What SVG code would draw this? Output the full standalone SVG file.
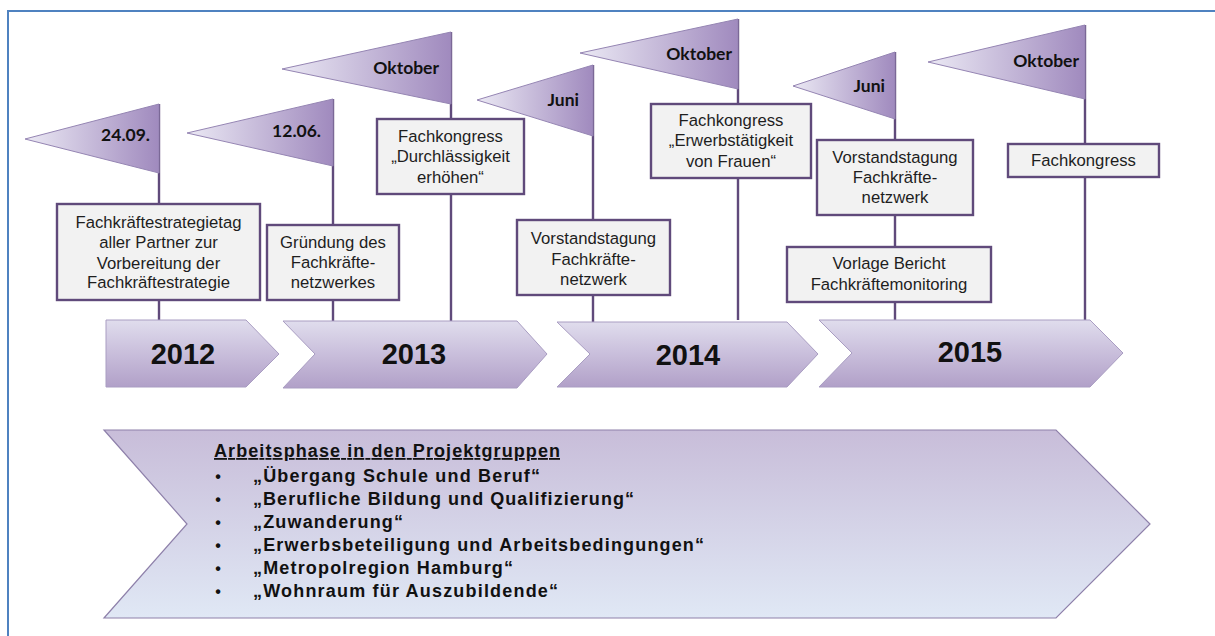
<svg xmlns="http://www.w3.org/2000/svg" width="1215" height="636" viewBox="0 0 1215 636">
  <defs>
    <linearGradient id="flagFill" x1="0" y1="0" x2="1" y2="0">
      <stop offset="0" stop-color="#ebe9f4"/>
      <stop offset="1" stop-color="#a08abe"/>
    </linearGradient>
    <linearGradient id="yearFill" x1="0" y1="0" x2="0" y2="1">
      <stop offset="0" stop-color="#e0dded"/>
      <stop offset="0.45" stop-color="#cbc1dd"/>
      <stop offset="1" stop-color="#b1a0c8"/>
    </linearGradient>
    <linearGradient id="phaseFill" x1="0" y1="0" x2="0" y2="1">
      <stop offset="0" stop-color="#c8bdd9"/>
      <stop offset="1" stop-color="#e0e8f5"/>
    </linearGradient>
    <style>
      .frame { fill: none; stroke: #4f82c0; stroke-width: 2; }
      .pole { stroke: #604a7b; stroke-width: 2.4; fill: none; }
      .flag { fill: url(#flagFill); stroke: #9585b3; stroke-width: 1; }
      .flagtxt { font-family: Lato, "Liberation Sans", sans-serif; font-weight: 700; font-size: 17.5px; fill: #111; text-anchor: end; }
      .box { fill: #f2f2f2; stroke: #604a7b; stroke-width: 2.4; }
      .boxtxt { font-family: "Liberation Sans", Arial, sans-serif; font-size: 16.7px; fill: #1e1e1e; text-anchor: middle; }
      .year { fill: url(#yearFill); stroke: #a99dc2; stroke-width: 1; }
      .yeartxt { font-family: "Liberation Sans", Arial, sans-serif; font-weight: 700; font-size: 29px; fill: #111; text-anchor: middle; }
      .phase { fill: url(#phaseFill); stroke: #8e80aa; stroke-width: 1.2; }
      .phasetxt { font-family: "Liberation Sans", Arial, sans-serif; font-weight: 700; font-size: 18px; fill: #111; }
      .bullet { font-family: "Liberation Sans", Arial, sans-serif; font-weight: 700; font-size: 16px; fill: #111; text-anchor: middle; }
    </style>
  </defs>

  <rect class="frame" x="8" y="11" width="1230" height="650"/>

  <!-- flag poles running down to the year bars -->
  <g id="connectors">
    <line class="pole" x1="159" y1="104" x2="159" y2="320"/>
    <line class="pole" x1="333" y1="99" x2="333" y2="321"/>
    <line class="pole" x1="451" y1="32" x2="451" y2="321"/>
    <line class="pole" x1="593" y1="65" x2="593" y2="322"/>
    <line class="pole" x1="738" y1="19" x2="738" y2="320"/>
    <line class="pole" x1="895" y1="52" x2="895" y2="320"/>
    <line class="pole" x1="1085" y1="25" x2="1085" y2="320"/>
  </g>

  <!-- pennants -->
  <g id="flag-2012-0924">
    <polygon class="flag" points="159,104 25,139 159,173"/>
    <text class="flagtxt" x="150" y="141">24.09.</text>
  </g>
  <g id="flag-2013-1206">
    <polygon class="flag" points="333,99 187,133 333,166"/>
    <text class="flagtxt" x="321" y="137">12.06.</text>
  </g>
  <g id="flag-2013-oktober">
    <polygon class="flag" points="451,32 282,69 451,104"/>
    <text class="flagtxt" x="439" y="74">Oktober</text>
  </g>
  <g id="flag-2014-juni">
    <polygon class="flag" points="593,65 477,100 593,136"/>
    <text class="flagtxt" x="579" y="106">Juni</text>
  </g>
  <g id="flag-2014-oktober">
    <polygon class="flag" points="738,19 580,53 738,89"/>
    <text class="flagtxt" x="732" y="60">Oktober</text>
  </g>
  <g id="flag-2015-juni">
    <polygon class="flag" points="895,52 793,86 895,119"/>
    <text class="flagtxt" x="885" y="92">Juni</text>
  </g>
  <g id="flag-2015-oktober">
    <polygon class="flag" points="1085,25 928,62 1085,99"/>
    <text class="flagtxt" x="1079" y="67">Oktober</text>
  </g>

  <!-- event boxes -->
  <g id="box-strategietag">
    <rect class="box" x="57" y="204" width="203" height="96"/>
    <text class="boxtxt" x="158.5" y="228">Fachkräftestrategietag</text>
    <text class="boxtxt" x="158.5" y="248">aller Partner zur</text>
    <text class="boxtxt" x="158.5" y="268.5">Vorbereitung der</text>
    <text class="boxtxt" x="158.5" y="288">Fachkräftestrategie</text>
  </g>
  <g id="box-gruendung">
    <rect class="box" x="267" y="225" width="132" height="75"/>
    <text class="boxtxt" x="333" y="248">Gründung des</text>
    <text class="boxtxt" x="333" y="268">Fachkräfte-</text>
    <text class="boxtxt" x="333" y="288">netzwerkes</text>
  </g>
  <g id="box-kongress-2013">
    <rect class="box" x="377" y="119" width="147" height="75"/>
    <text class="boxtxt" x="450.5" y="142">Fachkongress</text>
    <text class="boxtxt" x="450.5" y="162">„Durchlässigkeit</text>
    <text class="boxtxt" x="450.5" y="183">erhöhen“</text>
  </g>
  <g id="box-vorstand-2014">
    <rect class="box" x="517" y="220" width="153" height="75"/>
    <text class="boxtxt" x="593.5" y="244">Vorstandstagung</text>
    <text class="boxtxt" x="593.5" y="265">Fachkräfte-</text>
    <text class="boxtxt" x="593.5" y="285">netzwerk</text>
  </g>
  <g id="box-kongress-2014">
    <rect class="box" x="651" y="104" width="160" height="74"/>
    <text class="boxtxt" x="731" y="126">Fachkongress</text>
    <text class="boxtxt" x="731" y="146">„Erwerbstätigkeit</text>
    <text class="boxtxt" x="731" y="167">von Frauen“</text>
  </g>
  <g id="box-vorstand-2015">
    <rect class="box" x="817" y="140" width="156" height="75"/>
    <text class="boxtxt" x="895" y="163">Vorstandstagung</text>
    <text class="boxtxt" x="895" y="183">Fachkräfte-</text>
    <text class="boxtxt" x="895" y="203">netzwerk</text>
  </g>
  <g id="box-monitoring">
    <rect class="box" x="787" y="247" width="204" height="55"/>
    <text class="boxtxt" x="889" y="269">Vorlage Bericht</text>
    <text class="boxtxt" x="889" y="290">Fachkräftemonitoring</text>
  </g>
  <g id="box-kongress-2015">
    <rect class="box" x="1008" y="144" width="151" height="33"/>
    <text class="boxtxt" x="1083.5" y="166">Fachkongress</text>
  </g>

  <!-- year bars -->
  <g id="year-2012">
    <polygon class="year" points="106,320 246,320 279,354 246,387 106,387"/>
    <text class="yeartxt" x="183" y="364">2012</text>
  </g>
  <g id="year-2013">
    <polygon class="year" points="283,321 517,321 547,354 517,388 283,388 315,354"/>
    <text class="yeartxt" x="414" y="364">2013</text>
  </g>
  <g id="year-2014">
    <polygon class="year" points="557,322 787,322 818,354 787,387 557,387 590,354"/>
    <text class="yeartxt" x="688" y="365">2014</text>
  </g>
  <g id="year-2015">
    <polygon class="year" points="819,320 1090,320 1123,353 1090,387 819,387 852,353"/>
    <text class="yeartxt" x="970" y="362">2015</text>
  </g>

  <!-- work phase arrow -->
  <g id="arbeitsphase">
    <polygon class="phase" points="104,430 1056,430 1150,524 1056,618 104,618 187,524"/>
    <text class="phasetxt" x="214" y="457" textLength="346" lengthAdjust="spacing" text-decoration="underline">Arbeitsphase in den Projektgruppen</text>
    <text class="bullet" x="218" y="482">•</text>
    <text class="phasetxt" x="253" y="482" textLength="287" lengthAdjust="spacing">„Übergang Schule und Beruf“</text>
    <text class="bullet" x="218" y="505">•</text>
    <text class="phasetxt" x="253" y="505" textLength="381" lengthAdjust="spacing">„Berufliche Bildung und Qualifizierung“</text>
    <text class="bullet" x="218" y="528">•</text>
    <text class="phasetxt" x="253" y="528" textLength="150" lengthAdjust="spacing">„Zuwanderung“</text>
    <text class="bullet" x="218" y="551">•</text>
    <text class="phasetxt" x="253" y="551" textLength="451" lengthAdjust="spacing">„Erwerbsbeteiligung und Arbeitsbedingungen“</text>
    <text class="bullet" x="218" y="574">•</text>
    <text class="phasetxt" x="253" y="574" textLength="260" lengthAdjust="spacing">„Metropolregion Hamburg“</text>
    <text class="bullet" x="218" y="597">•</text>
    <text class="phasetxt" x="253" y="597" textLength="305" lengthAdjust="spacing">„Wohnraum für Auszubildende“</text>
  </g>
</svg>
